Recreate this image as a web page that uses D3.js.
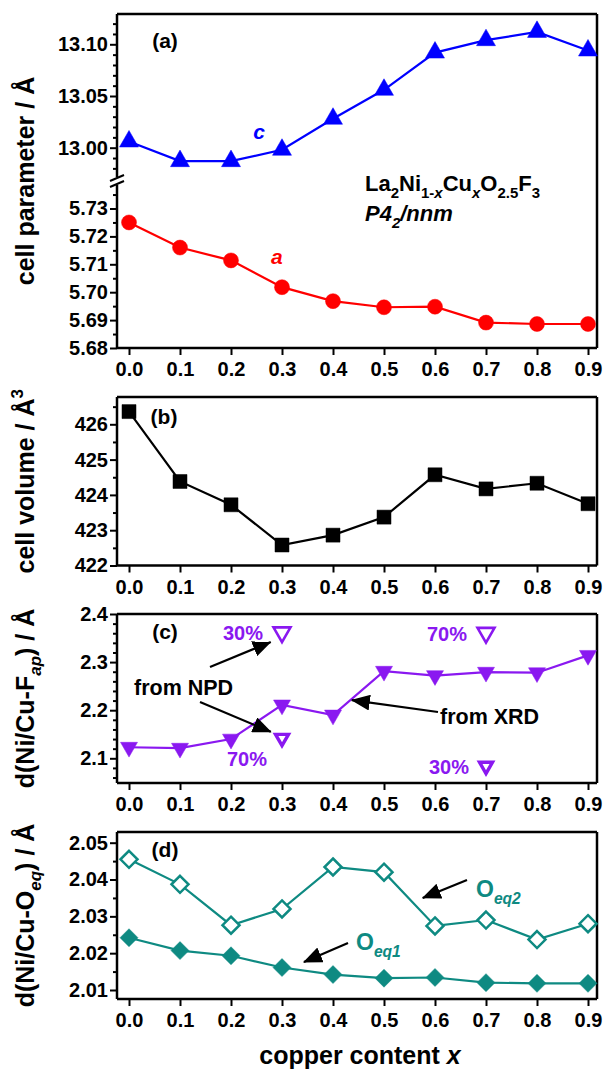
<!DOCTYPE html>
<html>
<head>
<meta charset="utf-8">
<script src="https://cdn.jsdelivr.net/npm/d3@7"></script>
<style>
  html, body { margin: 0; padding: 0; background: #fff; }
  svg { display: block; font-family: "Liberation Sans", Arial, sans-serif; font-weight: bold; }
</style>
</head>
<body>
<svg id="chart" width="603" height="1070"></svg>
<script>
// ---- data ----
const copper = [0.0, 0.1, 0.2, 0.3, 0.4, 0.5, 0.6, 0.7, 0.8, 0.9];
const xTickLabels = ["0.0", "0.1", "0.2", "0.3", "0.4", "0.5", "0.6", "0.7", "0.8", "0.9"];

// (a) lattice parameters
const cParam = [13.006, 12.987, 12.987, 12.998, 13.028, 13.056, 13.092, 13.104, 13.112, 13.094];
const aParam = [5.725, 5.716, 5.7114, 5.7018, 5.6968, 5.6946, 5.6948, 5.6891, 5.6886, 5.6886];
const cTicks = [13.00, 13.05, 13.10];
const aTicks = [5.68, 5.69, 5.70, 5.71, 5.72, 5.73];

// (b) cell volume
const volume = [426.36, 424.38, 423.72, 422.58, 422.86, 423.37, 424.57, 424.17, 424.33, 423.75];
const volTicks = [422, 423, 424, 425, 426];

// (c) apical distance, XRD and NPD (split positions with occupancy)
const fapXRD = [2.123, 2.121, 2.140, 2.211, 2.190, 2.281, 2.272, 2.279, 2.278, 2.314];
const npdX = [0.3, 0.3, 0.7, 0.7];
const npdDist = [2.362, 2.142, 2.361, 2.084];
const npdOcc = ["30%", "70%", "70%", "30%"];
const fapTicks = [2.1, 2.2, 2.3, 2.4];

// (d) equatorial distances
const oeq2 = [2.0455, 2.0387, 2.0276, 2.0320, 2.0434, 2.0420, 2.0274, 2.0290, 2.0237, 2.0280];
const oeq1 = [2.0242, 2.0207, 2.0193, 2.0161, 2.0142, 2.0132, 2.0134, 2.0120, 2.0118, 2.0118];
const oTicks = [2.01, 2.02, 2.03, 2.04, 2.05];

// ---- layout ----
const svg = d3.select("#chart");
const frameL = 117, frameR = 597;
const x = d3.scaleLinear().domain([0, 0.9]).range([129, 588]);

const BLUE = "#0000ff", RED = "#ff0000", PURPLE = "#8a18f0", TEAL = "#0e8a82";
const tickFont = 20;

const panels = {
  a: { top: 14, bottom: 348, brk: 181 },
  b: { top: 397, bottom: 565.5 },
  c: { top: 614, bottom: 783 },
  d: { top: 832, bottom: 999 }
};

const yC = d3.scaleLinear().domain([13.00, 13.10]).range([147.7, 44.3]);
const yA = d3.scaleLinear().domain([5.68, 5.73]).range([348, 208.5]);
const yV = d3.scaleLinear().domain([422, 426]).range([565.5, 424.3]);
const yF = d3.scaleLinear().domain([2.1, 2.4]).range([758.3, 614]);
const yO = d3.scaleLinear().domain([2.01, 2.05]).range([990, 842.7]);

// arrowhead
svg.append("defs").append("marker")
  .attr("id", "head").attr("markerUnits", "userSpaceOnUse")
  .attr("markerWidth", 20).attr("markerHeight", 16)
  .attr("refX", 18).attr("refY", 8).attr("orient", "auto")
  .append("path").attr("d", "M0,0 L19,8 L0,16 Z").attr("fill", "#000");

// ---- helpers ----
function frame(p, breakLeft) {
  const g = svg.append("g").attr("fill", "none").attr("stroke", "#000").attr("stroke-width", 2.5);
  g.append("line").attr("x1", frameL).attr("x2", frameR).attr("y1", p.top).attr("y2", p.top);
  g.append("line").attr("x1", frameL).attr("x2", frameR).attr("y1", p.bottom).attr("y2", p.bottom);
  g.append("line").attr("x1", frameR).attr("x2", frameR).attr("y1", p.top).attr("y2", p.bottom);
  if (breakLeft) {
    g.append("line").attr("x1", frameL).attr("x2", frameL).attr("y1", p.top).attr("y2", p.brk - 4);
    g.append("line").attr("x1", frameL).attr("x2", frameL).attr("y1", p.brk + 4).attr("y2", p.bottom);
    [-3, 3].forEach(o => {
      g.append("line").attr("stroke-width", 2)
        .attr("x1", frameL - 7).attr("x2", frameL + 7)
        .attr("y1", p.brk + o + 3).attr("y2", p.brk + o - 3);
    });
  } else {
    g.append("line").attr("x1", frameL).attr("x2", frameL).attr("y1", p.top).attr("y2", p.bottom);
  }
}

function styleAxis(g) {
  g.select(".domain").remove();
  g.selectAll(".tick line").attr("stroke", "#000").attr("stroke-width", 2);
  g.selectAll(".tick text").attr("fill", "#000")
    .attr("font-size", tickFont).attr("font-weight", "bold")
    .attr("font-family", "'Liberation Sans', Arial, sans-serif");
}

function xAxis(p) {
  const g = svg.append("g").attr("transform", `translate(0,${p.bottom})`)
    .call(d3.axisBottom(x).tickValues(copper).tickFormat((d, i) => xTickLabels[i])
      .tickSize(7).tickPadding(7));
  styleAxis(g);
}

function yAxis(scale, major, minor, fmt) {
  const g = svg.append("g").attr("transform", `translate(${frameL},0)`)
    .call(d3.axisLeft(scale).tickValues(major).tickFormat(fmt).tickSize(7).tickPadding(2));
  styleAxis(g);
  const m = svg.append("g").attr("transform", `translate(${frameL},0)`)
    .call(d3.axisLeft(scale).tickValues(minor).tickFormat("").tickSize(4));
  styleAxis(m);
}

function minorTicks(lo, hi, step, major) {
  const out = [];
  for (let v = lo; v <= hi + 1e-9; v += step) {
    const r = +v.toFixed(4);
    if (!major.some(mj => Math.abs(mj - r) < 1e-6)) out.push(r);
  }
  return out;
}

function rich(sel, parts, fs) {
  let off = 0;
  parts.forEach(p => {
    const target = p.sub ? 0.3 * fs : p.sup ? -0.45 * fs : 0;
    const ts = sel.append("tspan").text(p.t).attr("dy", target - off);
    off = target;
    if (p.sub || p.sup) ts.attr("font-size", fs * 0.68);
    if (p.it) ts.attr("font-style", "italic");
  });
  return sel;
}

function label(xp, yp, txt, opts = {}) {
  const fs = opts.fs || 20;
  const t = svg.append("text").attr("x", xp).attr("y", yp)
    .attr("font-size", fs).attr("fill", opts.color || "#000")
    .attr("text-anchor", opts.anchor || "start");
  if (opts.italic) t.attr("font-style", "italic");
  if (Array.isArray(txt)) rich(t, txt, fs); else t.text(txt);
  return t;
}

function yTitle(cy, parts) {
  const fs = 25;
  const t = svg.append("text")
    .attr("transform", `translate(${25 + 0.35 * fs},${cy}) rotate(-90)`)
    .attr("text-anchor", "middle").attr("font-size", fs).attr("fill", "#000");
  rich(t, parts, fs);
}

// marker shapes (centred on their centroid)
const triUp = (w) => { const h = w * 0.87; return `M0,${-2 * h / 3} L${w / 2},${h / 3} L${-w / 2},${h / 3} Z`; };
const triDown = (w) => { const h = w * 0.87; return `M0,${2 * h / 3} L${w / 2},${-h / 3} L${-w / 2},${-h / 3} Z`; };
const diamond = (w) => `M0,${-w / 2} L${w / 2},0 L0,${w / 2} L${-w / 2},0 Z`;
const square = (w) => `M${-w / 2},${-w / 2} h${w} v${w} h${-w} Z`;

function series(yScale, vals, color, shape, opts = {}) {
  const pts = copper.map((c, i) => [x(c), yScale(vals[i])]);
  svg.append("path").attr("d", d3.line()(pts))
    .attr("fill", "none").attr("stroke", color).attr("stroke-width", 2.2);
  svg.append("g").selectAll("path").data(pts).join("path")
    .attr("transform", d => `translate(${d[0]},${d[1]})`)
    .attr("d", shape)
    .attr("fill", opts.open ? "#fff" : color)
    .attr("stroke", color).attr("stroke-width", opts.open ? 2.5 : 0.5);
}

function arrow(x1, y1, x2, y2) {
  svg.append("line").attr("x1", x1).attr("y1", y1).attr("x2", x2).attr("y2", y2)
    .attr("stroke", "#000").attr("stroke-width", 2.2).attr("marker-end", "url(#head)");
}

// ---- panel (a) ----
frame(panels.a, true);
xAxis(panels.a);
yAxis(yC, cTicks, minorTicks(12.98, 13.12, 0.01, cTicks), d3.format(".2f"));
yAxis(yA, aTicks, minorTicks(5.685, 5.735, 0.01, aTicks), d3.format(".2f"));
series(yC, cParam, BLUE, triUp(19));
series(yA, aParam, RED, d3.symbol(d3.symbolCircle, Math.PI * 7.5 * 7.5)());
label(165, 48, "(a)", { anchor: "middle", fs: 21 });
label(x(0.255), 139, "c", { color: BLUE, italic: true, anchor: "middle", fs: 21 });
label(x(0.29), 264, "a", { color: RED, italic: true, anchor: "middle", fs: 21 });
label(365, 191, [
  { t: "La" }, { t: "2", sub: true }, { t: "Ni" }, { t: "1-", sub: true }, { t: "x", sub: true, it: true },
  { t: "Cu" }, { t: "x", sub: true, it: true }, { t: "O" }, { t: "2.5", sub: true }, { t: "F" }, { t: "3", sub: true }
], { fs: 22 });
label(365, 221, [{ t: "P4" }, { t: "2", sub: true }, { t: "/nnm" }], { fs: 22, italic: true });
yTitle((panels.a.top + panels.a.bottom) / 2, [{ t: "cell parameter / Å" }]);

// ---- panel (b) ----
frame(panels.b);
xAxis(panels.b);
yAxis(yV, volTicks, minorTicks(422.5, 426.5, 1, volTicks), d3.format("d"));
series(yV, volume, "#000", square(14));
label(164, 424, "(b)", { anchor: "middle", fs: 21 });
yTitle((panels.b.top + panels.b.bottom) / 2, [{ t: "cell volume / Å" }, { t: "3", sup: true }]);

// ---- panel (c) ----
frame(panels.c);
xAxis(panels.c);
yAxis(yF, fapTicks, minorTicks(2.06, 2.38, 0.02, fapTicks), d3.format(".1f"));
series(yF, fapXRD, PURPLE, triDown(17));
svg.append("g").selectAll("path").data(npdX).join("path")
  .attr("transform", (d, i) => `translate(${x(d)},${yF(npdDist[i])})`)
  .attr("d", (d, i) => triDown(npdDist[i] > 2.3 ? 17 : 13))
  .attr("fill", "#fff").attr("stroke", PURPLE)
  .attr("stroke-width", (d, i) => npdDist[i] > 2.3 ? 2.6 : 3.4);
// occupancy labels beside the split positions
svg.append("g").selectAll("text").data(npdX).join("text")
  .attr("x", (d, i) => npdDist[i] > 2.3 ? x(d) - 19 : (d < 0.5 ? x(d) - 35 : x(d) - 17))
  .attr("y", (d, i) => npdDist[i] > 2.3 ? yF(npdDist[i]) + 8 : (d < 0.5 ? yF(npdDist[i]) + 28 : yF(npdDist[i]) + 8))
  .attr("text-anchor", (d, i) => (npdDist[i] < 2.3 && d < 0.5) ? "middle" : "end")
  .attr("font-size", 20).attr("fill", PURPLE)
  .text((d, i) => npdOcc[i]);
label(165, 639, "(c)", { anchor: "middle", fs: 21 });
label(134, 695, "from NPD", { fs: 21.5 });
label(440, 724, "from XRD", { fs: 21.5 });
arrow(210, 667, x(0.278), yF(2.342));
arrow(200, 702, x(0.278), yF(2.155));
arrow(438, 712, x(0.437), yF(2.221));
yTitle((panels.c.top + panels.c.bottom) / 2,
  [{ t: "d(Ni/Cu-F" }, { t: "ap", sub: true, it: true }, { t: ") / Å" }]);

// ---- panel (d) ----
frame(panels.d);
xAxis(panels.d);
yAxis(yO, oTicks, minorTicks(2.015, 2.045, 0.01, oTicks), d3.format(".2f"));
series(yO, oeq2, TEAL, diamond(17), { open: true });
series(yO, oeq1, TEAL, diamond(18));
label(165, 857, "(d)", { anchor: "middle", fs: 21 });
label(476, 897, [{ t: "O" }, { t: "eq2", sub: true, it: true }], { fs: 23, color: TEAL });
label(356, 950, [{ t: "O" }, { t: "eq1", sub: true, it: true }], { fs: 23, color: TEAL });
arrow(467, 880, x(0.576), yO(2.035));
arrow(348, 943, x(0.343), yO(2.0176));
yTitle((panels.d.top + panels.d.bottom) / 2,
  [{ t: "d(Ni/Cu-O" }, { t: "eq", sub: true, it: true }, { t: ") / Å" }]);

// shared x title
label(360, 1064, [{ t: "copper content " }, { t: "x", it: true }], { fs: 25, anchor: "middle" });
</script>
</body>
</html>
